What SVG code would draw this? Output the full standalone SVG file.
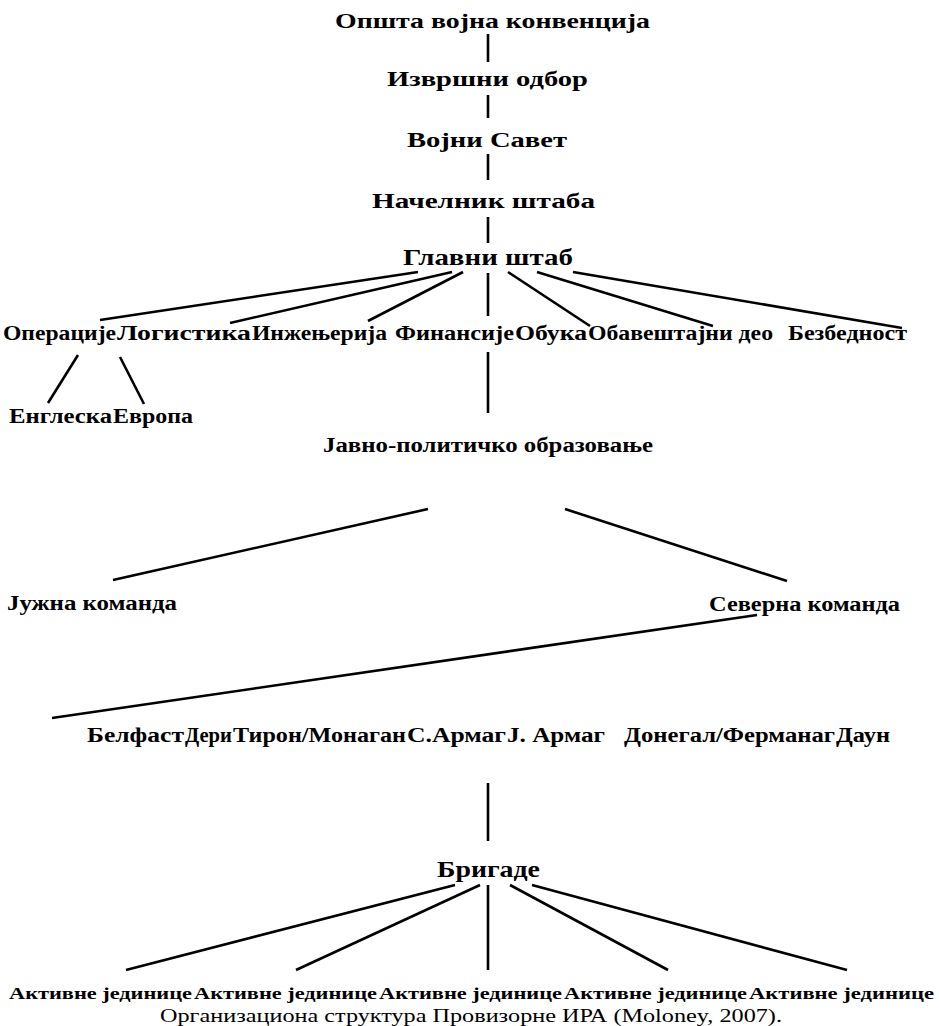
<svg xmlns="http://www.w3.org/2000/svg" width="939" height="1026" viewBox="0 0 939 1026">
<style>
.t{font-family:"Liberation Serif","Times New Roman",serif;font-weight:bold;fill:#000}
.s1{font-size:21px}
.s2{font-size:20px}
.s3{font-size:23px}
.s4{font-size:17px}
.cap{font-family:"Liberation Serif","Times New Roman",serif;font-size:19px;fill:#000}
#connectors line{stroke:#000;stroke-width:2.6;stroke-linecap:butt}
</style>
<rect width="939" height="1026" fill="#fff"/>
<g id="connectors">
<line x1="488" y1="34" x2="488" y2="62"/>
<line x1="488" y1="95" x2="488" y2="118"/>
<line x1="488" y1="154" x2="488" y2="180"/>
<line x1="488" y1="217" x2="488" y2="243"/>
<line x1="418" y1="272" x2="100" y2="320"/>
<line x1="452" y1="272" x2="230" y2="323"/>
<line x1="463" y1="272" x2="368" y2="321"/>
<line x1="488" y1="273" x2="488" y2="316"/>
<line x1="508" y1="272" x2="590" y2="326"/>
<line x1="537" y1="272" x2="713" y2="326"/>
<line x1="573" y1="272" x2="902" y2="328"/>
<line x1="78" y1="355" x2="48" y2="403"/>
<line x1="120" y1="357" x2="144" y2="404"/>
<line x1="488" y1="352" x2="488" y2="413"/>
<line x1="428" y1="509" x2="113" y2="580"/>
<line x1="565" y1="509" x2="787" y2="581"/>
<line x1="757" y1="615" x2="52" y2="718"/>
<line x1="488" y1="783" x2="488" y2="841"/>
<line x1="455" y1="885" x2="126" y2="970"/>
<line x1="480" y1="885" x2="296" y2="970"/>
<line x1="488" y1="885" x2="488" y2="970"/>
<line x1="510" y1="885" x2="668" y2="970"/>
<line x1="532" y1="885" x2="847" y2="970"/>
</g>
<g id="n-konvencija"><text class="t s1" x="335" y="28" textLength="315" lengthAdjust="spacingAndGlyphs">Општа војна конвенција</text></g>
<g id="n-izvrsni"><text class="t s1" x="387" y="86" textLength="201" lengthAdjust="spacingAndGlyphs">Извршни одбор</text></g>
<g id="n-savet"><text class="t s1" x="407" y="147" textLength="160" lengthAdjust="spacingAndGlyphs">Војни Савет</text></g>
<g id="n-nacelnik"><text class="t s1" x="372" y="208" textLength="223" lengthAdjust="spacingAndGlyphs">Начелник штаба</text></g>
<g id="n-glavni"><text class="t s3" x="403" y="265" textLength="170" lengthAdjust="spacingAndGlyphs">Главни штаб</text></g>
<g id="n-operacije"><text class="t s2" x="3" y="340" textLength="113" lengthAdjust="spacingAndGlyphs">Операције</text></g>
<g id="n-logistika"><text class="t s2" x="117" y="340" textLength="134" lengthAdjust="spacingAndGlyphs">Логистика</text></g>
<g id="n-inzenjerija"><text class="t s2" x="252" y="340" textLength="135" lengthAdjust="spacingAndGlyphs">Инжењерија</text></g>
<g id="n-finansije"><text class="t s2" x="395" y="340" textLength="119" lengthAdjust="spacingAndGlyphs">Финансије</text></g>
<g id="n-obuka"><text class="t s2" x="515" y="340" textLength="72" lengthAdjust="spacingAndGlyphs">Обука</text></g>
<g id="n-obavestajni"><text class="t s2" x="588" y="340" textLength="185" lengthAdjust="spacingAndGlyphs">Обавештајни део</text></g>
<g id="n-bezbednost"><text class="t s2" x="788" y="340" textLength="119" lengthAdjust="spacingAndGlyphs">Безбедност</text></g>
<g id="n-engleska"><text class="t s2" x="9" y="423" textLength="103" lengthAdjust="spacingAndGlyphs">Енглеска</text></g>
<g id="n-evropa"><text class="t s2" x="113" y="423" textLength="80" lengthAdjust="spacingAndGlyphs">Европа</text></g>
<g id="n-javno"><text class="t s2" x="323" y="452" textLength="330" lengthAdjust="spacingAndGlyphs">Јавно-политичко образовање</text></g>
<g id="n-juzna"><text class="t s2" x="7" y="610" textLength="170" lengthAdjust="spacingAndGlyphs">Јужна команда</text></g>
<g id="n-severna"><text class="t s2" x="709" y="611" textLength="191" lengthAdjust="spacingAndGlyphs">Северна команда</text></g>
<g id="n-belfast"><text class="t s2" x="87" y="742" textLength="97" lengthAdjust="spacingAndGlyphs">Белфаст</text></g>
<g id="n-deri"><text class="t s2" x="185" y="742" textLength="47" lengthAdjust="spacingAndGlyphs">Дери</text></g>
<g id="n-tiron"><text class="t s2" x="233" y="742" textLength="173" lengthAdjust="spacingAndGlyphs">Тирон/Монаган</text></g>
<g id="n-sarmag"><text class="t s2" x="407" y="742" textLength="99" lengthAdjust="spacingAndGlyphs">С.Армаг</text></g>
<g id="n-jarmag"><text class="t s2" x="507" y="742" textLength="98" lengthAdjust="spacingAndGlyphs">J. Армаг</text></g>
<g id="n-donegal"><text class="t s2" x="624" y="742" textLength="211" lengthAdjust="spacingAndGlyphs">Донегал/Ферманаг</text></g>
<g id="n-daun"><text class="t s2" x="836" y="742" textLength="54" lengthAdjust="spacingAndGlyphs">Даун</text></g>
<g id="n-brigade"><text class="t s3" x="437" y="877" textLength="103" lengthAdjust="spacingAndGlyphs">Бригаде</text></g>
<g id="n-aj1"><text class="t s4" x="9" y="999" textLength="183" lengthAdjust="spacingAndGlyphs">Активне јединице</text></g>
<g id="n-aj2"><text class="t s4" x="194" y="999" textLength="183" lengthAdjust="spacingAndGlyphs">Активне јединице</text></g>
<g id="n-aj3"><text class="t s4" x="379" y="999" textLength="183" lengthAdjust="spacingAndGlyphs">Активне јединице</text></g>
<g id="n-aj4"><text class="t s4" x="564" y="999" textLength="183" lengthAdjust="spacingAndGlyphs">Активне јединице</text></g>
<g id="n-aj5"><text class="t s4" x="749" y="999" textLength="185" lengthAdjust="spacingAndGlyphs">Активне јединице</text></g>
<g id="caption"><text class="cap" x="160" y="1022" textLength="622" lengthAdjust="spacingAndGlyphs">Организациона структура Провизорне ИРА (Moloney, 2007).</text></g>
</svg>
